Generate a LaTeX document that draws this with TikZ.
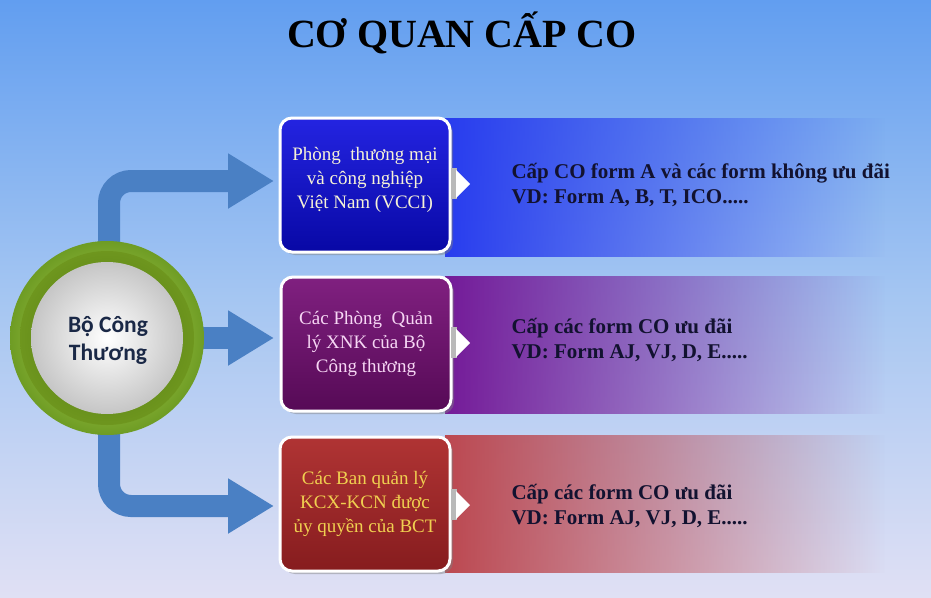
\documentclass[tikz,border=0pt]{standalone}
\usepackage{fontspec}
\setmainfont{Liberation Serif}
\newfontfamily\carl{Carlito}
\usetikzlibrary{arrows.meta,fadings,shadows}
\definecolor{bgtop}{RGB}{98,158,240}
\definecolor{bgmid}{RGB}{165,198,242}
\definecolor{bgbot}{RGB}{224,224,244}
\definecolor{arrowblue}{RGB}{74,128,196}
\definecolor{bandA}{RGB}{40,60,238}
\definecolor{bandB}{RGB}{116,26,152}
\definecolor{bandC}{RGB}{188,72,80}
\definecolor{textdark}{RGB}{18,18,48}
\definecolor{navy}{RGB}{26,40,70}
\definecolor{boxAtop}{RGB}{36,36,225}
\definecolor{boxAbot}{RGB}{8,8,165}
\definecolor{boxAtxt}{RGB}{246,242,214}
\definecolor{boxBtop}{RGB}{128,32,128}
\definecolor{boxBbot}{RGB}{86,10,86}
\definecolor{boxBtxt}{RGB}{246,214,244}
\definecolor{boxCtop}{RGB}{176,52,52}
\definecolor{boxCbot}{RGB}{134,28,30}
\definecolor{boxCtxt}{RGB}{240,208,80}
\definecolor{ringin}{RGB}{196,226,96}
\definecolor{ringout}{RGB}{110,156,36}
\definecolor{ringdark}{RGB}{78,118,20}
\definecolor{ringmid}{RGB}{110,150,30}
\tikzfading[name=fadeR, left color=transparent!0, right color=transparent!100]
\begin{document}
\begin{tikzpicture}[x=1pt,y=-1pt,
  box/.style={draw=white, line width=3pt, rounded corners=12pt, minimum width=170pt, minimum height=134pt, align=center,
     font=\fontsize{19}{24}\selectfont, drop shadow={shadow xshift=3pt, shadow yshift=-3pt, opacity=0.45}},
  desc/.style={anchor=west, align=left, text=textdark, font=\bfseries\fontsize{21}{25.5}\selectfont},
  flow/.style={draw=arrowblue, line width=22pt, rounded corners=22pt, -{Triangle[length=46pt,width=52pt]}},
  band/.style={path fading=fadeR},
  notch/.style={fill=white}]
\shade[top color=bgtop, bottom color=bgbot, middle color=bgmid] (0,0) rectangle (931,597);
\useasboundingbox (0,0) rectangle (931,597);
% title
\node[font=\bfseries\fontsize{40}{48}\selectfont, text=black] (title) at (462,33) {CƠ QUAN CẤP CO};
% bands
\fill[bandA, band] (445,118) rectangle (885,257);
\fill[bandB, band] (445,276) rectangle (885,414);
\fill[bandC, band] (445,435) rectangle (885,573);
% boxes
\node[box, top color=boxAtop, bottom color=boxAbot, text=boxAtxt] (boxA) at (365,185)
  {Phòng\ \ thương mại\\và công nghiệp\\Việt Nam (VCCI)\\[-10pt]\mbox{}};
\node[box, top color=boxBtop, bottom color=boxBbot, text=boxBtxt] (boxB) at (366,344)
  {Các Phòng\ \ Quản\\lý XNK của Bộ\\Công thương};
\node[box, top color=boxCtop, bottom color=boxCbot, text=boxCtxt] (boxC) at (365,504)
  {Các Ban quản lý\\KCX-KCN được\\ủy quyền của BCT};
% notches
\fill[gray!55] (451,168) rectangle (457,199);
\fill[notch] (456,170) -- (470,184) -- (456,198) -- cycle;
\fill[gray!55] (451,327) rectangle (457,358);
\fill[notch] (456,329) -- (470,343) -- (456,357) -- cycle;
\fill[gray!55] (451,489) rectangle (457,520);
\fill[notch] (456,491) -- (470,505) -- (456,519) -- cycle;
% descriptions
\node[desc] (dA) at (508,185) {Cấp CO form A và các form không ưu đãi\\VD: Form A, B, T, ICO.....};
\node[desc] (dB) at (508,340) {Cấp các form CO ưu đãi\\VD: Form AJ, VJ, D, E.....};
\node[desc] (dC) at (508,506) {Cấp các form CO ưu đãi\\VD: Form AJ, VJ, D, E.....};
% arrows
\coordinate (c) at (109,338);
\coordinate (tA) at (274,181);
\coordinate (tB) at (274,338);
\coordinate (tC) at (274,506);
\draw[flow] (c) |- (tA);
\draw[flow] (c) -- (tB);
\draw[flow] (c) |- (tC);
% central circle
\shade[inner color=ringin, outer color=ringout] (107,338) circle (97);
\shade[inner color=ringdark, outer color=ringmid] (107,338) circle (87);
\shade[inner color=white, outer color=gray!45] (107,338) circle (76);
\node[font=\carl\bfseries\fontsize{23.5}{28}\selectfont, text=navy, align=center] (bct) at (108,340) {Bộ Công\\Thương};
\end{tikzpicture}
\end{document}
